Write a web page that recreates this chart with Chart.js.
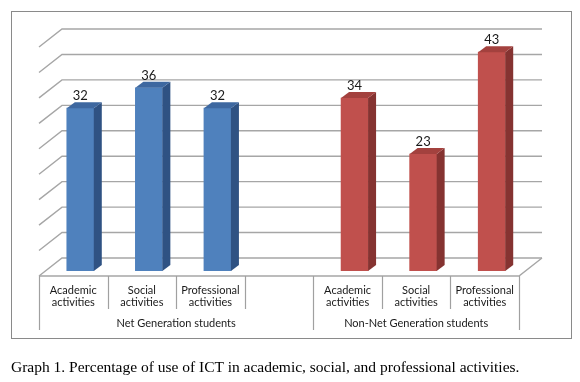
<!DOCTYPE html>
<html>
<head>
<meta charset="utf-8">
<script src="https://cdn.jsdelivr.net/npm/chart.js@4/dist/chart.umd.min.js"></script>
<style>
  html, body { margin: 0; padding: 0; background: #fff; }
  #wrap { position: relative; width: 580px; height: 382px; overflow: hidden; }
  canvas { position: absolute; left: 0; top: 0; }
  #caption { position: absolute; left: 11px; top: 358px; font-family: "Liberation Serif", "Times New Roman", serif; font-size: 15.5px; color: #000; white-space: nowrap; }
</style>
</head>
<body>
<div id="wrap">
  <canvas id="c" width="580" height="382"></canvas>
  <div id="caption">Graph 1. Percentage of use of ICT in academic, social, and professional activities.</div>
</div>
<script>
// ---- data ----
const categories = [
  ["Academic", "activities"],
  ["Social", "activities"],
  ["Professional", "activities"],
  "",
  ["Academic", "activities"],
  ["Social", "activities"],
  ["Professional", "activities"]
];
const groupLabels = ["Net Generation students", "Non-Net Generation students"];
const groupStart = [0, 4];   // first category index of each group
const groupEnd = [3, 6];     // last category index of each group
const netGeneration = [32, 36, 32, null, null, null, null];
const nonNetGeneration = [null, null, null, null, 34, 23, 43];
const yMin = 0, yMax = 45, yStep = 5;

// ---- style ----
const DEPTH_X = 23, DEPTH_Y = 18;      // floor depth (perspective)
const BAR_DX = 7, BAR_DY = -5;         // bar front-face offset from front plane
const BAR_SX = 8, BAR_SY = 6;          // bar depth
const GRID = '#a6a6a6';
const AXIS = '#a0a0a0';
const LABEL_FONT = '11px Lato, "Open Sans", sans-serif';
const VALUE_FONT = '13px Lato, "Open Sans", sans-serif';
const faces = {
  '#4F81BD': { side: '#2F5283', top: '#3E68A0' },
  '#C0504D': { side: '#853331', top: '#A3413E' }
};

const plugin3d = {
  id: 'plugin3d',
  beforeDatasetsDraw(chart) {
    const ctx = chart.ctx;
    const x = chart.scales.x, y = chart.scales.y;
    const L = chart.chartArea.left, R = chart.chartArea.right;
    ctx.save();
    // outer frame
    ctx.strokeStyle = '#8a8a8a';
    ctx.lineWidth = 1;
    ctx.strokeRect(11.5, 11.5, 560, 327);
    // back wall grid + left wall diagonals
    ctx.strokeStyle = GRID;
    ctx.lineWidth = 1.4;
    for (let v = yMin; v <= yMax; v += yStep) {
      const py = y.getPixelForValue(v);
      ctx.beginPath();
      ctx.moveTo(L, py);
      ctx.lineTo(L + DEPTH_X, py - DEPTH_Y);
      ctx.lineTo(R + DEPTH_X, py - DEPTH_Y);
      ctx.stroke();
    }
    // floor front edge and right edge
    const p0 = y.getPixelForValue(yMin);
    ctx.beginPath();
    ctx.moveTo(L, p0);
    ctx.lineTo(R, p0);
    ctx.lineTo(R + DEPTH_X, p0 - DEPTH_Y);
    ctx.stroke();
    // category axis cells
    const n = categories.length;
    const cw = (x.getPixelForValue(n - 1) - x.getPixelForValue(0)) / (n - 1);
    const boundary = i => x.getPixelForValue(i) - cw / 2;
    ctx.strokeStyle = AXIS;
    ctx.lineWidth = 1.2;
    for (let i = 0; i <= n; i++) {
      const isGroup = groupStart.includes(i) || groupEnd.includes(i - 1);
      const bx = Math.round(boundary(i)) + 0.5;
      ctx.beginPath();
      ctx.moveTo(bx, p0);
      ctx.lineTo(bx, p0 + (isGroup ? 54 : 33));
      ctx.stroke();
    }
    ctx.fillStyle = '#1a1a1a';
    ctx.font = LABEL_FONT;
    ctx.textAlign = 'center';
    ctx.textBaseline = 'middle';
    categories.forEach((c, i) => {
      const lines = Array.isArray(c) ? c : [c];
      lines.forEach((t, k) => ctx.fillText(t, x.getPixelForValue(i), p0 + 14 + k * 12.5));
    });
    groupLabels.forEach((g, k) => {
      const cx = (boundary(groupStart[k]) + boundary(groupEnd[k] + 1)) / 2;
      ctx.fillText(g, cx, p0 + 47);
    });
    ctx.restore();
    // shift bars to mid depth
    ctx.save();
    ctx.translate(BAR_DX, BAR_DY);
  },
  afterDatasetsDraw(chart) {
    const ctx = chart.ctx;
    chart.data.datasets.forEach((ds, di) => {
      const meta = chart.getDatasetMeta(di);
      const f = faces[ds.backgroundColor];
      meta.data.forEach((el, i) => {
        if (ds.data[i] == null) return;
        const xl = el.x - el.width / 2, xr = el.x + el.width / 2;
        const top = el.y, base = el.base;
        // side face
        ctx.fillStyle = f.side;
        ctx.beginPath();
        ctx.moveTo(xr, top);
        ctx.lineTo(xr + BAR_SX, top - BAR_SY);
        ctx.lineTo(xr + BAR_SX, base - BAR_SY);
        ctx.lineTo(xr, base);
        ctx.closePath();
        ctx.fill();
        // top face
        ctx.fillStyle = f.top;
        ctx.beginPath();
        ctx.moveTo(xl, top);
        ctx.lineTo(xl + BAR_SX, top - BAR_SY);
        ctx.lineTo(xr + BAR_SX, top - BAR_SY);
        ctx.lineTo(xr, top);
        ctx.closePath();
        ctx.fill();
        // value label
        ctx.fillStyle = '#1a1a1a';
        ctx.font = VALUE_FONT;
        ctx.textAlign = 'center';
        ctx.textBaseline = 'alphabetic';
        ctx.fillText(String(ds.data[i]), el.x, top - BAR_SY - 2);
      });
    });
    ctx.restore();
  }
};

new Chart(document.getElementById('c'), {
  type: 'bar',
  data: {
    labels: categories,
    datasets: [
      { label: 'Net Generation', data: netGeneration, backgroundColor: '#4F81BD', grouped: false, barThickness: 27 },
      { label: 'Non-Net Generation', data: nonNetGeneration, backgroundColor: '#C0504D', grouped: false, barThickness: 27 }
    ]
  },
  options: {
    responsive: false,
    animation: false,
    layout: { padding: { left: 39, right: 61, top: 47, bottom: 106 } },
    scales: {
      x: { display: false, offset: true },
      y: { display: false, min: yMin, max: yMax, ticks: { stepSize: yStep } }
    },
    plugins: { legend: { display: false }, tooltip: { enabled: false } }
  },
  plugins: [plugin3d]
});
</script>
</body>
</html>
